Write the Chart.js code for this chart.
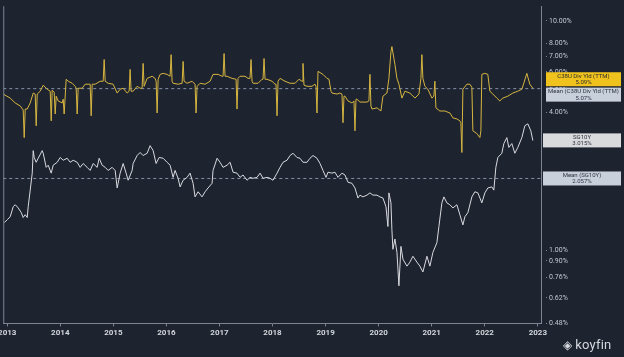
<!DOCTYPE html>
<html><head><meta charset="utf-8">
<script src="https://cdn.jsdelivr.net/npm/chart.js@4.4.0/dist/chart.umd.min.js"></script>
<style>
html,body{margin:0;padding:0;background:#1e2330;overflow:hidden;width:624px;height:357px;}
#wrap{position:absolute;left:-4px;top:0;width:628px;height:357px;}
#logo{position:absolute;left:563px;top:337px;font-family:Roboto,"Open Sans",sans-serif;font-size:13px;color:#d5d8de;letter-spacing:0.2px;}
#logo span{font-size:12px;margin-right:3px;}
</style></head><body>
<div id="wrap"><canvas id="c" width="628" height="357"></canvas></div>
<div id="logo"><span>◈</span>koyfin</div>
<script>
// ---- data ----
const yearTicks = [2013, 2014, 2015, 2016, 2017, 2018, 2019, 2020, 2021, 2022, 2023];
const yTickValues = [0.48, 0.62, 0.76, 0.90, 1, 2, 3, 4, 5, 6, 7, 8, 10];
const xDomain = [2012.925, 2023.06];

const c38uYears = [
2012.925,2013.056,2013.151,2013.245,2013.301,2013.320,2013.339,2013.377,2013.433,2013.490,
2013.527,2013.546,2013.565,2013.621,2013.678,2013.753,2013.810,2013.829,2013.847,2013.885,
2013.904,2013.923,2013.960,2014.036,2014.055,2014.073,2014.111,2014.149,2014.224,2014.281,
2014.299,2014.318,2014.337,2014.412,2014.469,2014.525,2014.563,2014.582,2014.601,2014.657,
2014.751,2014.808,2014.827,2014.846,2014.902,2014.996,2015.072,2015.128,2015.185,2015.260,
2015.298,2015.316,2015.335,2015.373,2015.448,2015.505,2015.542,2015.561,2015.580,2015.637,
2015.731,2015.787,2015.806,2015.825,2015.844,2015.881,2015.938,2016.013,2016.070,2016.089,
2016.107,2016.126,2016.220,2016.296,2016.315,2016.333,2016.390,2016.484,2016.540,2016.559,
2016.578,2016.635,2016.729,2016.823,2016.879,2016.974,2017.049,2017.068,2017.087,2017.105,
2017.143,2017.237,2017.313,2017.331,2017.350,2017.388,2017.482,2017.539,2017.576,2017.595,
2017.614,2017.633,2017.727,2017.802,2017.821,2017.840,2017.859,2017.896,2017.991,2018.047,
2018.066,2018.085,2018.104,2018.141,2018.235,2018.330,2018.424,2018.499,2018.556,2018.574,
2018.593,2018.650,2018.744,2018.800,2018.819,2018.838,2018.857,2018.951,2019.026,2019.064,
2019.102,2019.121,2019.215,2019.271,2019.309,2019.328,2019.347,2019.365,2019.422,2019.497,
2019.535,2019.554,2019.573,2019.591,2019.648,2019.780,2019.817,2019.836,2019.855,2019.874,
2019.968,2020.043,2020.081,2020.156,2020.194,2020.232,2020.250,2020.288,2020.307,2020.345,
2020.382,2020.439,2020.495,2020.589,2020.684,2020.759,2020.797,2020.815,2020.834,2020.872,
2020.928,2021.004,2021.041,2021.060,2021.079,2021.154,2021.249,2021.343,2021.399,2021.475,
2021.531,2021.550,2021.569,2021.588,2021.663,2021.719,2021.757,2021.776,2021.851,2021.908,
2021.927,2021.945,2022.002,2022.058,2022.096,2022.153,2022.228,2022.284,2022.341,2022.435,
2022.529,2022.623,2022.699,2022.736,2022.793,2022.849,2022.906];
const c38uYield = [
4.80,4.61,4.39,4.26,4.09,3.10,4.13,4.13,4.39,4.85,
4.80,3.49,4.80,4.94,5.25,5.04,4.94,3.67,4.99,4.89,
3.93,4.70,4.48,4.39,4.56,3.93,5.57,5.46,5.35,5.19,
5.09,3.93,5.09,5.09,5.30,5.30,5.30,3.86,5.30,5.30,
5.46,5.46,6.79,5.46,5.35,5.30,4.85,5.04,5.09,4.85,
4.94,6.15,4.94,4.94,5.19,5.09,5.09,6.53,5.19,5.62,
5.74,5.62,5.46,3.97,5.57,5.85,5.91,5.85,5.74,7.13,
5.46,5.35,5.30,5.35,6.66,5.46,5.35,5.46,5.30,3.97,
5.19,5.35,5.30,5.46,5.85,5.85,5.74,5.74,7.21,5.74,
5.74,5.62,5.57,4.13,5.62,5.74,5.74,5.62,5.62,6.79,
5.46,5.35,5.35,5.57,5.57,6.86,5.57,5.57,5.46,5.30,
5.30,3.86,5.46,5.62,5.46,5.35,5.35,5.57,5.46,6.53,
5.25,5.19,5.19,5.30,5.19,3.97,6.03,5.85,5.62,5.57,
4.94,4.85,4.80,4.85,4.80,3.60,4.70,4.70,4.48,4.39,
4.48,3.32,4.56,4.56,4.43,4.43,4.48,5.85,4.26,4.13,
4.18,4.05,4.70,4.85,5.62,7.35,7.73,6.86,6.46,5.62,
5.30,4.61,4.94,4.85,4.61,4.80,5.62,7.13,5.62,5.19,
5.04,4.61,4.70,5.46,4.18,4.05,4.05,3.97,3.78,3.74,
3.67,3.60,2.67,5.04,5.30,5.30,5.14,3.32,3.23,3.10,
3.32,5.85,5.91,5.85,4.94,4.80,4.61,4.48,4.61,4.70,
4.85,4.94,5.04,5.35,5.91,5.30,5.09];

const sg10yYears = [
2012.944,2013.000,2013.056,2013.113,2013.151,2013.207,2013.264,2013.301,2013.339,2013.377,
2013.395,2013.433,2013.471,2013.490,2013.508,2013.546,2013.584,2013.659,2013.678,2013.734,
2013.772,2013.829,2013.866,2013.942,2013.998,2014.055,2014.130,2014.186,2014.243,2014.318,
2014.375,2014.431,2014.507,2014.563,2014.620,2014.695,2014.733,2014.789,2014.846,2014.902,
2014.977,2015.034,2015.072,2015.090,2015.128,2015.185,2015.241,2015.279,2015.354,2015.373,
2015.448,2015.505,2015.561,2015.637,2015.693,2015.750,2015.806,2015.863,2015.938,2016.013,
2016.070,2016.126,2016.164,2016.220,2016.258,2016.315,2016.390,2016.446,2016.503,2016.540,
2016.597,2016.672,2016.729,2016.785,2016.861,2016.879,2016.955,2017.011,2017.068,2017.143,
2017.200,2017.256,2017.331,2017.388,2017.444,2017.520,2017.576,2017.633,2017.708,2017.765,
2017.821,2017.896,2017.953,2018.009,2018.085,2018.141,2018.198,2018.273,2018.330,2018.386,
2018.461,2018.518,2018.574,2018.650,2018.706,2018.763,2018.838,2018.895,2018.951,2019.008,
2019.045,2019.121,2019.177,2019.234,2019.309,2019.365,2019.422,2019.497,2019.554,2019.610,
2019.648,2019.704,2019.780,2019.836,2019.893,2019.968,2020.024,2020.081,2020.138,2020.175,
2020.194,2020.232,2020.250,2020.269,2020.307,2020.345,2020.382,2020.420,2020.458,2020.533,
2020.589,2020.646,2020.721,2020.778,2020.834,2020.910,2020.966,2021.023,2021.098,2021.136,
2021.192,2021.230,2021.286,2021.343,2021.399,2021.475,2021.531,2021.588,2021.625,2021.682,
2021.757,2021.814,2021.870,2021.945,2022.002,2022.058,2022.134,2022.171,2022.209,2022.247,
2022.322,2022.360,2022.416,2022.454,2022.510,2022.567,2022.623,2022.699,2022.755,2022.812,
2022.868,2022.906];
const sg10yYield = [
1.32,1.36,1.40,1.55,1.58,1.53,1.46,1.39,1.43,1.39,
1.55,1.83,2.17,2.72,2.54,2.42,2.52,2.72,2.65,2.30,
2.35,2.17,2.35,2.42,2.54,2.47,2.52,2.42,2.47,2.42,
2.30,2.39,2.30,2.23,2.39,2.30,2.52,2.35,2.30,2.23,
2.30,2.23,1.87,1.96,2.17,2.39,2.17,2.02,2.23,2.39,
2.59,2.67,2.59,2.65,2.86,2.72,2.39,2.54,2.52,2.42,
2.35,2.08,2.23,2.06,1.89,2.02,2.08,2.17,1.96,1.71,
1.80,1.71,1.80,1.87,1.96,2.23,2.52,2.42,2.30,2.35,
2.42,2.19,2.17,2.08,2.13,2.02,2.08,2.06,2.08,2.17,
2.06,2.08,2.06,2.02,2.17,2.30,2.42,2.47,2.59,2.65,
2.54,2.52,2.42,2.42,2.52,2.59,2.52,2.39,2.23,2.08,
2.19,2.17,2.19,2.08,2.17,2.13,1.98,1.96,1.87,1.69,
1.74,1.71,1.74,1.78,1.74,1.74,1.71,1.69,1.55,1.27,
1.78,1.61,1.23,1.01,1.12,0.98,0.70,1.04,0.915,0.853,
0.888,0.942,0.888,0.853,0.804,0.942,0.853,0.98,1.08,1.27,
1.61,1.71,1.61,1.58,1.53,1.58,1.43,1.29,1.40,1.46,
1.71,1.80,1.78,1.61,1.78,1.87,1.89,1.83,2.30,2.54,
2.65,2.92,3.10,2.81,2.92,2.65,2.81,3.10,3.49,3.56,
3.32,3.01];

const c38uLast = 5.09, c38uMean = 5.07;
const sg10yLast = 3.015, sg10yMean = 2.057;

// ---- styling ----
const FONT = 'Roboto, "Open Sans", sans-serif';
const AXIS_COLOR = '#7d8492';
const pts = (xs, ys) => xs.map((x, i) => ({x: x, y: ys[i]}));

const boxLabels = [
  {lines: ['C38U Div Yld (TTM)', c38uLast.toFixed(2) + '%'], value: c38uLast, nudge: -9, bg: '#f0c21d', fg: '#2b2b2b', inset: 5},
  {lines: ['Mean (C38U Div Yld (TTM)', c38uMean.toFixed(2) + '%'], value: c38uMean, nudge: 6, bg: '#c8d0dc', fg: '#2f3440', inset: 5},
  {lines: ['SG10Y', sg10yLast.toFixed(3) + '%'], value: sg10yLast, nudge: 0, bg: '#d9dadc', fg: '#2f3440', inset: 2},
  {lines: ['Mean (SG10Y)', sg10yMean.toFixed(3) + '%'], value: sg10yMean, nudge: 0, bg: '#c8d0dc', fg: '#2f3440', inset: 2}
];

const overlay = {
  id: 'overlay',
  afterDraw(chart) {
    const ctx = chart.ctx, a = chart.chartArea, y = chart.scales.y;
    ctx.save();
    // left frame line
    ctx.strokeStyle = AXIS_COLOR; ctx.lineWidth = 1;
    ctx.beginPath(); ctx.moveTo(a.left + 0.5, a.top); ctx.lineTo(a.left + 0.5, a.bottom); ctx.stroke();
    // value boxes
    boxLabels.forEach(b => {
      const cy = y.getPixelForValue(b.value) + b.nudge;
      const x0 = a.right + b.inset, w = 78 - (b.inset - 2), h = 14;
      ctx.fillStyle = b.bg;
      ctx.fillRect(x0, cy - h / 2, w, h);
      ctx.fillStyle = b.fg;
      ctx.font = '6px ' + FONT;
      ctx.textAlign = 'center'; ctx.textBaseline = 'middle';
      ctx.fillText(b.lines[0], x0 + w / 2, cy - 3);
      ctx.fillText(b.lines[1], x0 + w / 2, cy + 3.5);
    });
    ctx.restore();
  }
};

new Chart(document.getElementById('c'), {
  type: 'line',
  data: {
    datasets: [
      {data: pts(c38uYears, c38uYield), borderColor: '#d6b640', borderWidth: 1, pointRadius: 0, tension: 0},
      {data: pts(sg10yYears, sg10yYield), borderColor: '#d9dadf', borderWidth: 1, pointRadius: 0, tension: 0},
      {data: pts(xDomain, [c38uMean, c38uMean]), borderColor: '#8390a6', borderWidth: 1, borderDash: [3, 3], pointRadius: 0},
      {data: pts(xDomain, [sg10yMean, sg10yMean]), borderColor: '#8390a6', borderWidth: 1, borderDash: [3, 3], pointRadius: 0}
    ]
  },
  options: {
    responsive: false,
    animation: false,
    events: [],
    layout: {padding: {left: 7, top: 4, bottom: 17, right: 0}},
    plugins: {legend: {display: false}, tooltip: {enabled: false}},
    scales: {
      x: {
        type: 'linear', min: xDomain[0], max: xDomain[1],
        afterBuildTicks: s => { s.ticks = yearTicks.map(v => ({value: v})); },
        ticks: {callback: v => String(v), color: '#d3d6dc', font: {family: FONT, size: 8, weight: 'bold'}, maxRotation: 0, autoSkip: false, padding: 2},
        grid: {drawOnChartArea: false, tickLength: 3, color: AXIS_COLOR},
        border: {color: AXIS_COLOR}
      },
      y: {
        type: 'logarithmic', position: 'right', min: 0.48, max: 11.6,
        afterBuildTicks: s => { s.ticks = yTickValues.map(v => ({value: v})); },
        afterFit: s => { s.width = 83; },
        ticks: {callback: v => Number(v).toFixed(2) + '%', color: '#c4c8d0', font: {family: FONT, size: 7}, autoSkip: false, padding: 2},
        grid: {drawOnChartArea: false, tickLength: 6, tickBorderDash: [0, 4, 2, 2], color: AXIS_COLOR},
        border: {color: AXIS_COLOR}
      }
    }
  },
  plugins: [overlay]
});
</script>
</body></html>
